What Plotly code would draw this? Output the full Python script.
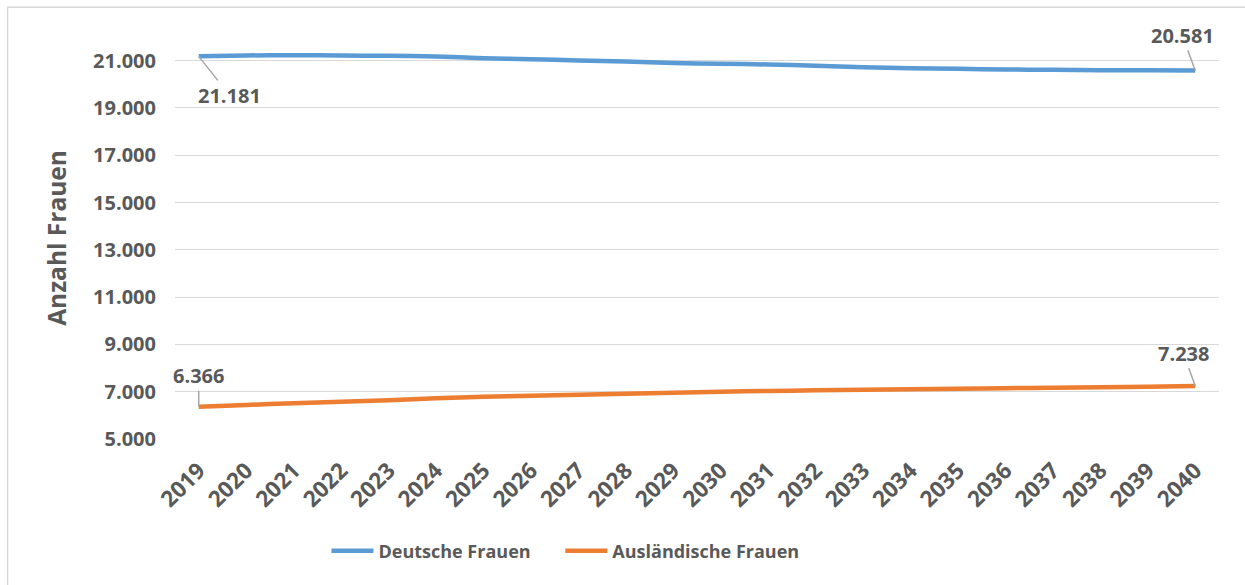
import plotly.graph_objects as go

years = list(range(2019, 2041))
deutsche = [21181, 21220, 21232, 21220, 21203, 21178, 21106, 21063, 21008, 20966, 20900,
            20865, 20839, 20780, 20725, 20683, 20653, 20628, 20611, 20598, 20590, 20581]
auslaendische = [6366, 6440, 6510, 6570, 6640, 6720, 6790, 6830, 6870, 6910, 6960,
                 7000, 7030, 7060, 7080, 7100, 7120, 7150, 7170, 7190, 7210, 7238]
tick_vals = [5000, 7000, 9000, 11000, 13000, 15000, 17000, 19000, 21000]
tick_text = ["5.000", "7.000", "9.000", "11.000", "13.000", "15.000", "17.000", "19.000", "21.000"]

def fmt(v):
    return f"{v:,}".replace(",", ".")

W, H = 1245, 585
L, R, T, B = 174.5, 26, 36.8, 146
pw = W - L - R
ph = H - T - B

def px(x):
    return (x - L) / pw

def py(y):
    return 1 - (y - T) / ph

FONT = "Open Sans"
GREY = "#595959"

fig = go.Figure()
fig.add_trace(go.Scatter(x=years, y=deutsche, mode="lines", name="Deutsche Frauen",
                         legend="legend",
                         line=dict(color="#5B9BD5", width=4.5, shape="spline", smoothing=0.6)))
fig.add_trace(go.Scatter(x=years, y=auslaendische, mode="lines", name="Ausländische Frauen",
                         legend="legend2",
                         line=dict(color="#ED7D31", width=4.5, shape="spline", smoothing=0.6)))

ann = [
    (years[0], deutsche[0], 31, 39),
    (years[-1], deutsche[-1], -13, -35),
    (years[0], auslaendische[0], 0, -31),
    (years[-1], auslaendische[-1], -12, -33),
]
annotations = []
for x, y, ax, ay in ann:
    annotations.append(dict(x=x, y=y, xref="x", yref="y", text=fmt(y), showarrow=True,
                            arrowhead=0, arrowwidth=1.5, arrowcolor="#a6a6a6", ax=ax, ay=ay,
                            standoff=0, startstandoff=0,
                            font=dict(family=FONT, size=20, color=GREY, weight="bold")))

legend_style = dict(orientation="h", xanchor="left", y=py(551), yanchor="middle",
                    font=dict(family=FONT, size=18, color=GREY, weight="bold"),
                    itemwidth=42, bgcolor="rgba(0,0,0,0)")

fig.update_layout(
    width=W, height=H,
    margin=dict(l=L, r=R, t=T, b=B, autoexpand=False),
    paper_bgcolor="white", plot_bgcolor="white",
    showlegend=True,
    legend=dict(x=px(326), **legend_style),
    legend2=dict(x=px(560), **legend_style),
    xaxis=dict(range=[2018.5, 2040.5], tickmode="array", tickvals=years,
               ticktext=[str(y) for y in years], tickangle=-45, showgrid=False,
               zeroline=False, showline=False, ticks="", automargin=False,
               ticklabelstandoff=13,
               tickfont=dict(family=FONT, size=22.5, color=GREY, weight="bold")),
    yaxis=dict(range=[5000, 22000], tickmode="array", tickvals=tick_vals,
               ticktext=tick_text, showgrid=True, gridcolor="#d9d9d9", gridwidth=1.3,
               zeroline=False, showline=False, ticks="", ticklabelstandoff=18,
               automargin=False,
               tickfont=dict(family=FONT, size=20, color=GREY, weight="bold"),
               title=dict(text="Anzahl Frauen", standoff=19,
                          font=dict(family=FONT, size=24.5, color=GREY, weight="bold"))),
    annotations=annotations,
    shapes=[dict(type="rect", xref="paper", yref="paper", x0=px(7), x1=px(1260),
                 y0=py(7), y1=py(600), line=dict(color="#d9d9d9", width=1.5),
                 fillcolor="rgba(0,0,0,0)", layer="below")],
)

fig.write_html("out.html", config={"displayModeBar": False},
               post_script="document.body.style.margin='0';document.body.style.overflow='hidden';")
